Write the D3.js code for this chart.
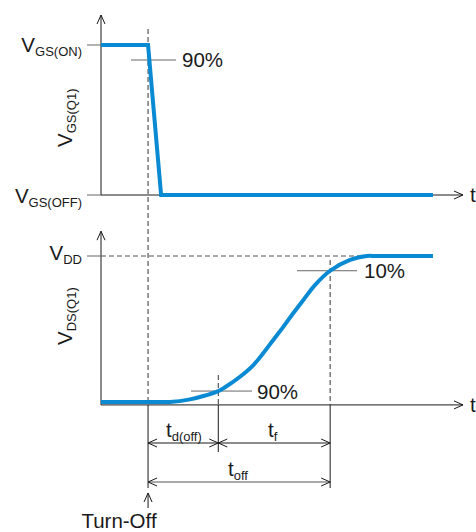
<!DOCTYPE html>
<html>
<head>
<meta charset="utf-8">
<script src="https://cdn.jsdelivr.net/npm/d3@7"></script>
<style>
  body { margin: 0; background: #fff; }
  text { font-family: "Liberation Sans", Arial, sans-serif; fill: #1a1a1a; }
</style>
</head>
<body>
<div id="chart"></div>
<script>
// waveform data (time in arbitrary units 0..100, level normalised 0..1)
var vgsTime  = [0, 13, 16.6, 91.7]
var vgsLevel = [1, 1, 0, 0]

var vdsTime  = [0, 17, 19, 24.6, 28.3, 32.4, 34.25, 38.4, 42.1, 44.8, 47.6, 50.4, 53.1, 55.9, 59.1, 63.3, 68.8, 73.4, 76, 91.7]
var vdsLevel = [0, 0, 0, 0.018, 0.041, 0.075, 0.101, 0.173, 0.253, 0.334, 0.425, 0.516, 0.608, 0.699, 0.801, 0.899, 0.973, 1, 1, 1]

// event times
var tTurnOff = 13
var t90 = 32.4
var t10 = 63.3

var width = 476
var height = 532
var blue = "#0a8ad2"
var fs = 20.5

var svg = d3.select("#chart")
  .append("svg")
    .attr("width", width)
    .attr("height", height)

// scales
var x = d3.scaleLinear().domain([0, 100]).range([101, 463])
var yTop = d3.scaleLinear().domain([0, 1]).range([195, 45])
var yBot = d3.scaleLinear().domain([0, 1]).range([402, 256])
var botAxisY = yBot(-0.02)

// open chevron arrow head
function chevron(px, py, dir) {
  var L = 9, W = 4
  var p
  if (dir == "right") p = [[px - L, py - W], [px, py], [px - L, py + W]]
  if (dir == "left")  p = [[px + L, py - W], [px, py], [px + L, py + W]]
  if (dir == "up")    p = [[px - W, py + L], [px, py], [px + W, py + L]]
  svg.append("path")
    .attr("d", d3.line()(p))
    .attr("fill", "none")
    .attr("stroke", "#1a1a1a")
    .attr("stroke-width", 1)
}
function seg(x1, y1, x2, y2, color, dash) {
  svg.append("line")
    .attr("x1", x1).attr("y1", y1).attr("x2", x2).attr("y2", y2)
    .attr("stroke", color)
    .attr("stroke-width", 1)
    .attr("stroke-dasharray", dash || null)
}
// label with subscript
function sublabel(px, py, main, sub, anchor) {
  var t = svg.append("text")
    .attr("x", px).attr("y", py)
    .attr("text-anchor", anchor || "start")
    .style("font-size", fs + "px")
  t.append("tspan").text(main)
  t.append("tspan").attr("dy", 4).style("font-size", "13px").text(sub)
  return t
}

// ---- axes ----
// top panel
seg(x(0), yTop(1.2), x(0), yTop(0), "#1a1a1a")
chevron(x(0), yTop(1.2), "up")
seg(x(0), yTop(0), x(100), yTop(0), "#1a1a1a")
chevron(x(100), yTop(0), "right")
// bottom panel
seg(x(0), yBot(1.17), x(0), botAxisY, "#1a1a1a")
chevron(x(0), yBot(1.17), "up")
seg(x(0), botAxisY, x(100), botAxisY, "#1a1a1a")
chevron(x(100), botAxisY, "right")

// level ticks
seg(87, yTop(1), x(0), yTop(1), "#666")
seg(87, yTop(0), x(0), yTop(0), "#666")
seg(87, yBot(1), x(0), yBot(1), "#666")
seg(x(0), yBot(1), x(73.4), yBot(1), "#555", "5,3")

// vertical event lines
seg(x(tTurnOff), 29, x(tTurnOff), botAxisY, "#333", "5,3")
seg(x(tTurnOff), botAxisY, x(tTurnOff), 488, "#1a1a1a")
seg(x(t90), 375, x(t90), botAxisY, "#333", "5,3")
seg(x(t90), botAxisY, x(t90), 452, "#1a1a1a")
seg(x(t10), 260, x(t10), botAxisY, "#333", "5,3")
seg(x(t10), botAxisY, x(t10), 488, "#1a1a1a")

// percentage markers
seg(131, yTop(0.9), 176, yTop(0.9), "#666")
seg(191, yBot(vdsLevel[5]), 252, yBot(vdsLevel[5]), "#666")
seg(297, yBot(vdsLevel[15]), 357, yBot(vdsLevel[15]), "#666")

// ---- waveforms ----
var vgsData = vgsTime.map(function(t, i){ return [t, vgsLevel[i]] })
var vdsData = vdsTime.map(function(t, i){ return [t, vdsLevel[i]] })

svg.append("path")
  .datum(vgsData)
  .attr("d", d3.line().x(function(d){ return x(d[0]) }).y(function(d){ return yTop(d[1]) }))
  .attr("fill", "none")
  .attr("stroke", blue)
  .attr("stroke-width", 4)
  .attr("stroke-linejoin", "miter")

svg.append("path")
  .datum(vdsData)
  .attr("d", d3.line().curve(d3.curveCatmullRom.alpha(0.5)).x(function(d){ return x(d[0]) }).y(function(d){ return yBot(d[1]) }))
  .attr("fill", "none")
  .attr("stroke", blue)
  .attr("stroke-width", 4)

// ---- dimension arrows ----
var dimY1 = 443, dimY2 = 482
seg(x(tTurnOff), dimY1, x(t10), dimY1, "#1a1a1a")
chevron(x(tTurnOff), dimY1, "left")
chevron(x(t90), dimY1, "right")
chevron(x(t90), dimY1, "left")
chevron(x(t10), dimY1, "right")
seg(x(tTurnOff), dimY2, x(t10), dimY2, "#555")
chevron(x(tTurnOff), dimY2, "left")
chevron(x(t10), dimY2, "right")

// turn-off arrow
seg(x(tTurnOff), 493, x(tTurnOff), 508, "#1a1a1a")
chevron(x(tTurnOff), 493, "up")

// ---- labels ----
sublabel(82, 52, "V", "GS(ON)", "end")
sublabel(82, 203, "V", "GS(OFF)", "end")
sublabel(82, 260, "V", "DD", "end")

sublabel(72, 147, "V", "GS(Q1)", "start").attr("transform", "rotate(-90,72,147)")
sublabel(72, 345, "V", "DS(Q1)", "start").attr("transform", "rotate(-90,72,345)")

svg.append("text").attr("x", 182).attr("y", 67).style("font-size", fs + "px").text("90%")
svg.append("text").attr("x", 257).attr("y", 399).style("font-size", fs + "px").text("90%")
svg.append("text").attr("x", 364).attr("y", 278).style("font-size", fs + "px").text("10%")

sublabel(166, 437, "t", "d(off)", "start")
sublabel(268, 437, "t", "f", "start")
sublabel(228, 476, "t", "off", "start")

svg.append("text").attr("x", 470).attr("y", yTop(0) + 7).style("font-size", fs + "px").text("t")
svg.append("text").attr("x", 470).attr("y", botAxisY + 7).style("font-size", fs + "px").text("t")

svg.append("text").attr("x", 119).attr("y", 528).attr("text-anchor", "middle").style("font-size", fs + "px").text("Turn-Off")
</script>
</body>
</html>
